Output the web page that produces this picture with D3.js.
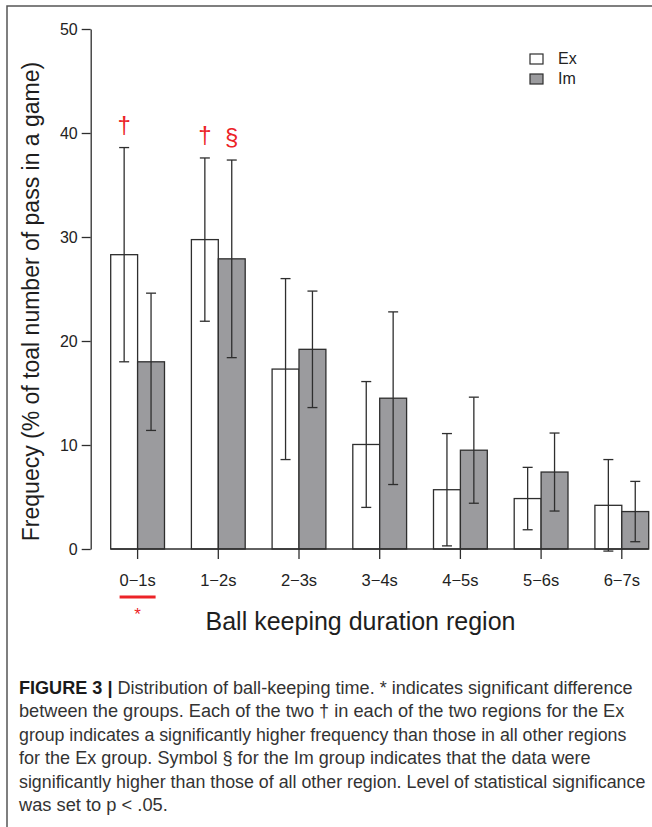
<!DOCTYPE html>
<html>
<head>
<meta charset="utf-8">
<script src="https://cdn.jsdelivr.net/npm/d3@7"></script>
<style>
  html, body { margin: 0; padding: 0; background: #fff; }
  svg { display: block; }
</style>
</head>
<body>
<svg id="fig" width="652" height="827"></svg>
<script>
// Ball-keeping duration regions and group means / SDs (% of passes per game)
const categories = ["0\u22121s", "1\u22122s", "2\u22123s", "3\u22124s", "4\u22125s", "5\u22126s", "6\u22127s"];
const groups = ["Ex", "Im"];
const exMean = [28.3, 29.75, 17.3, 10.05, 5.7, 4.85, 4.2];
const exSD   = [10.3, 7.85, 8.7, 6.05, 5.4, 3.0, 4.4];
const imMean = [18.0, 27.9, 19.2, 14.5, 9.5, 7.4, 3.6];
const imSD   = [6.6, 9.5, 5.6, 8.3, 5.1, 3.75, 2.9];
const yTicks = [0, 10, 20, 30, 40, 50];

// Significance marks: dagger over Ex bars, section sign over Im bar
const marks = [
  { cat: "0\u22121s", group: "Ex", symbol: "\u2020" },
  { cat: "1\u22122s", group: "Ex", symbol: "\u2020" },
  { cat: "1\u22122s", group: "Im", symbol: "\u00A7" }
];
const betweenGroupSig = ["0\u22121s"];

// Caption lines with the width each line is set to
const captionLines = [
  { bold: "FIGURE 3 |", text: " Distribution of ball-keeping time. * indicates significant difference", w: 614 },
  { bold: "", text: "between the groups. Each of the two \u2020 in each of the two regions for the Ex", w: 606 },
  { bold: "", text: "group indicates a significantly higher frequency than those in all other regions", w: 608 },
  { bold: "", text: "for the Ex group. Symbol \u00A7 for the Im group indicates that the data were", w: 572 },
  { bold: "", text: "significantly higher than those of all other region. Level of statistical significance", w: 627 },
  { bold: "", text: "was set to p < .05.", w: 149 }
];

const data = categories.map((c, i) => ({
  cat: c,
  values: [
    { group: "Ex", mean: exMean[i], sd: exSD[i] },
    { group: "Im", mean: imMean[i], sd: imSD[i] }
  ]
}));

const svg = d3.select("#fig");
const ink = "#2e2e2e";
const red = "#ec2327";
const font = "'Liberation Sans', Arial, Helvetica, sans-serif";

// Figure frame (top and left rules)
svg.append("path")
  .attr("d", "M7,827 V6 H652")
  .attr("fill", "none").attr("stroke", "#555").attr("stroke-width", 1.5);

const y = d3.scaleLinear().domain([0, 50]).range([549, 29]);
const x0 = d3.scaleBand().domain(categories).range([110.7, 648.7])
  .paddingInner(1 / 3).paddingOuter(0);
const x1 = d3.scaleBand().domain(groups).range([0, x0.bandwidth()]);
const fill = d3.scaleOrdinal().domain(groups).range(["#ffffff", "#9b9b9e"]);

// Y axis
const yAxis = svg.append("g")
  .attr("transform", "translate(90.7,0)")
  .call(d3.axisLeft(y).tickValues(yTicks).tickSize(9).tickPadding(4).tickSizeOuter(0));
yAxis.select(".domain").attr("stroke", ink).attr("stroke-width", 1.3);
yAxis.selectAll(".tick line").attr("stroke", ink).attr("stroke-width", 1.3);
yAxis.selectAll(".tick text")
  .attr("font-family", font).attr("font-size", 16).attr("fill", "#222");

// Bars
const gGroups = svg.append("g").selectAll("g")
  .data(data).join("g")
  .attr("transform", d => `translate(${x0(d.cat)},0)`);

gGroups.selectAll("rect")
  .data(d => d.values).join("rect")
  .attr("x", d => x1(d.group))
  .attr("y", d => y(d.mean))
  .attr("width", x1.bandwidth())
  .attr("height", d => y(0) - y(d.mean))
  .attr("fill", d => fill(d.group))
  .attr("stroke", ink).attr("stroke-width", 1.3);

// Error bars (mean ± SD)
const cap = 5;
const eb = gGroups.selectAll("g.err")
  .data(d => d.values).join("g").attr("class", "err")
  .attr("stroke", ink).attr("stroke-width", 1.3);
eb.append("line")
  .attr("x1", d => x1(d.group) + x1.bandwidth() / 2)
  .attr("x2", d => x1(d.group) + x1.bandwidth() / 2)
  .attr("y1", d => y(d.mean - d.sd))
  .attr("y2", d => y(d.mean + d.sd));
eb.append("line")
  .attr("x1", d => x1(d.group) + x1.bandwidth() / 2 - cap)
  .attr("x2", d => x1(d.group) + x1.bandwidth() / 2 + cap)
  .attr("y1", d => y(d.mean + d.sd)).attr("y2", d => y(d.mean + d.sd));
eb.append("line")
  .attr("x1", d => x1(d.group) + x1.bandwidth() / 2 - cap)
  .attr("x2", d => x1(d.group) + x1.bandwidth() / 2 + cap)
  .attr("y1", d => y(d.mean - d.sd)).attr("y2", d => y(d.mean - d.sd));

// X axis: baseline across the bars, ticks at group centres
const xAxis = svg.append("g").attr("transform", `translate(0,${y(0)})`);
xAxis.append("line")
  .attr("x1", x0.range()[0]).attr("x2", x0.range()[1])
  .attr("stroke", ink).attr("stroke-width", 1.3);
const xt = xAxis.selectAll("g.tick").data(categories).join("g")
  .attr("class", "tick")
  .attr("transform", d => `translate(${x0(d) + x0.bandwidth() / 2},0)`);
xt.append("line").attr("y1", 0).attr("y2", 10)
  .attr("stroke", ink).attr("stroke-width", 1.3);
xt.append("text").attr("y", 36.5).attr("text-anchor", "middle")
  .attr("font-family", font).attr("font-size", 16.5).attr("fill", "#222")
  .text(d => d);

// Between-group significance under the category label
betweenGroupSig.forEach(c => {
  const cx = x0(c) + x0.bandwidth() / 2;
  svg.append("line")
    .attr("x1", cx - 18).attr("x2", cx + 18)
    .attr("y1", 597).attr("y2", 597)
    .attr("stroke", red).attr("stroke-width", 3);
  svg.append("text")
    .attr("x", cx).attr("y", 620).attr("text-anchor", "middle")
    .attr("font-family", font).attr("font-size", 17).attr("fill", red)
    .text("*");
});

// Within-group significance marks above the error bars
svg.append("g").selectAll("text").data(marks).join("text")
  .attr("x", d => x0(d.cat) + x1(d.group) + x1.bandwidth() / 2)
  .attr("y", d => {
    const row = data.find(r => r.cat === d.cat).values.find(v => v.group === d.group);
    return y(row.mean + row.sd) - 15;
  })
  .attr("text-anchor", "middle")
  .attr("font-family", font).attr("font-size", 24).attr("fill", red)
  .text(d => d.symbol);

// Axis titles
svg.append("text")
  .attr("x", 360.5).attr("y", 630).attr("text-anchor", "middle")
  .attr("font-family", font).attr("font-size", 25).attr("fill", "#1e1e1e")
  .text("Ball keeping duration region");
svg.append("text")
  .attr("transform", "translate(39,301.5) rotate(-90)")
  .attr("text-anchor", "middle")
  .attr("font-family", font).attr("font-size", 23).attr("fill", "#1e1e1e")
  .text("Frequecy (% of toal number of pass in a game)");

// Legend
const legend = svg.append("g").attr("transform", "translate(530,54)");
const li = legend.selectAll("g").data(groups).join("g")
  .attr("transform", (d, i) => `translate(0,${i * 20})`);
li.append("rect").attr("width", 13).attr("height", 10)
  .attr("fill", d => fill(d)).attr("stroke", ink).attr("stroke-width", 1.2);
li.append("text").attr("x", 28).attr("y", 10)
  .attr("font-family", font).attr("font-size", 16).attr("fill", "#222")
  .text(d => d);

// Caption: each line is condensed horizontally to its set width
const capG = svg.append("g")
  .attr("font-family", font)
  .attr("font-size", 18.5).attr("fill", "#333");
captionLines.forEach((ln, i) => {
  const g = capG.append("g");
  const t = g.append("text").attr("x", 0).attr("y", 0);
  if (ln.bold) t.append("tspan").attr("font-weight", "bold").attr("fill", "#1a1a1a").text(ln.bold);
  t.append("tspan").text(ln.text);
  const natural = t.node().getComputedTextLength();
  const sx = ln.w / natural;
  g.attr("transform", `translate(19,${693.5 + i * 23.5}) scale(${sx},1)`);
});
</script>
</body>
</html>
